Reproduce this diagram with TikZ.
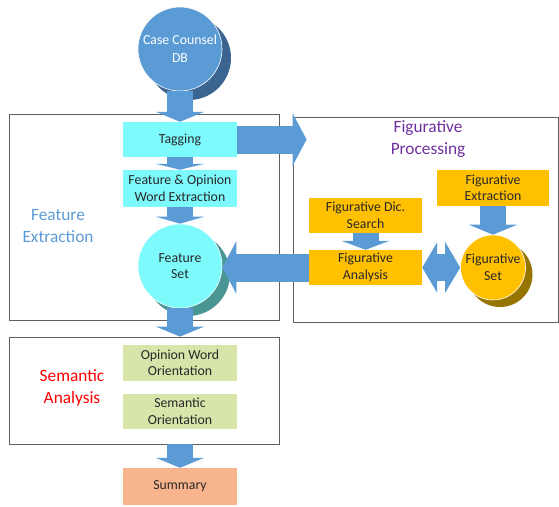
\documentclass[tikz,border=0pt]{standalone}
\usepackage{fontspec}
\setmainfont{Carlito}
\usetikzlibrary{arrows.meta,shadows,positioning}

\definecolor{arrowblue}{RGB}{91,155,213}
\definecolor{dbshadow}{RGB}{60,100,145}
\definecolor{cyanfill}{RGB}{125,250,252}
\definecolor{tealshadow}{RGB}{74,150,148}
\definecolor{figorange}{RGB}{255,192,0}
\definecolor{oliveshadow}{RGB}{150,116,0}
\definecolor{semgreen}{RGB}{215,228,170}
\definecolor{sumsalmon}{RGB}{248,180,140}
\definecolor{framegray}{RGB}{95,95,95}
\definecolor{textgray}{RGB}{40,40,40}
\definecolor{figpurple}{RGB}{112,48,160}

\newcommand{\procfont}{\fontsize{13.8}{16.5}\selectfont}
\newcommand{\groupfont}{\fontsize{17.3}{21.5}\selectfont}

\begin{document}
\begin{tikzpicture}[x=1pt,y=-1pt,
  framebox/.style={rectangle, draw=framegray, line width=0.8pt, inner sep=0pt},
  procbox/.style={rectangle, minimum width=114pt, minimum height=35pt, inner sep=0pt, align=center, text=textgray, font=\procfont},
  roundset/.style={circle, minimum size=84pt, inner sep=0pt, align=center, draw=white, line width=0.6pt, font=\procfont},
  grouplabel/.style={align=center, font=\groupfont},
  blockarrow/.style={draw=arrowblue, line width=26pt, -{Triangle[width=48pt,length=#1]}},
  blockarrow/.default=10pt,
  bigarrow/.style={draw=arrowblue, line width=28pt, -{Triangle[width=52pt,length=14pt]}}]
\useasboundingbox (0,0) rectangle (559,506);

% Group frames
\node[framebox, minimum width=270pt, minimum height=206pt] (featbox) at (144,217) {};
\node[framebox, minimum width=265pt, minimum height=205pt] (figbox) at (425.5,219.5) {};
\node[framebox, minimum width=270pt, minimum height=107pt] (sembox) at (144,390.5) {};

% Group labels
\node[grouplabel, text=arrowblue] (featlabel) at (58,226) {Feature\\Extraction};
\node[grouplabel, text=figpurple] (figlabel) at (428,139) {Figurative\\Processing};
\node[grouplabel, text=red] (semlabel) at (72,388) {Semantic\\Analysis};

% Main pipeline
\node[roundset, fill=arrowblue, text=white, font=\fontsize{13.8}{18}\selectfont, general shadow={fill=dbshadow, shadow xshift=9pt, shadow yshift=-9pt}] (db) at (180,49) {Case Counsel\\DB};
\node[procbox, fill=cyanfill, minimum height=35pt] (tag) at (180,139.5) {Tagging};
\node[procbox, fill=cyanfill, minimum height=37pt] (feo) at (180,188.5) {Feature \& Opinion\\Word Extraction};
\node[roundset, fill=cyanfill, text=textgray, general shadow={fill=tealshadow, shadow xshift=8pt, shadow yshift=-8pt}] (fset) at (180,266) {Feature\\Set};
\node[procbox, fill=semgreen, minimum height=36pt] (owo) at (180,363) {Opinion Word\\Orientation};
\node[procbox, fill=semgreen, minimum height=35pt] (so) at (180,411.5) {Semantic\\Orientation};
\node[procbox, fill=sumsalmon, minimum height=37pt] (summary) at (180,486.5) {Summary};

% Figurative side
\node[procbox, fill=figorange, minimum width=113pt] (fds) at (365.5,215.5) {Figurative Dic.\\Search};
\node[procbox, fill=figorange, minimum width=113pt] (fa) at (365.5,267.5) {Figurative\\Analysis};
\node[procbox, fill=figorange, minimum width=112pt, minimum height=36pt] (fe) at (493,188) {Figurative\\Extraction};
\node[roundset, fill=figorange, text=textgray, minimum size=65pt, general shadow={fill=oliveshadow, shadow xshift=7pt, shadow yshift=-7pt}] (fgset) at (493,267.5) {Figurative\\Set};

% Arrows
\draw[blockarrow] (db) -- (tag);
\draw[blockarrow=6pt] (tag) -- (feo);
\draw[blockarrow=7pt] (feo) -- (fset);
\draw[blockarrow] (fset) -- (fset |- sembox.north);
\draw[blockarrow] (summary |- sembox.south) -- (summary);
\draw[blockarrow=9pt] (fds) -- (fa);
\draw[blockarrow] (fe) -- (fgset);
\draw[bigarrow, shorten >=-14pt] (tag.east) -- (tag.east -| figbox.west);
\draw[bigarrow] (fa.west) -- (fa.west -| fset.east);
\draw[draw=arrowblue, line width=27pt, {Triangle[width=50pt,length=15pt]}-{Triangle[width=50pt,length=15pt]}] (fa) -- (fgset);
\end{tikzpicture}
\end{document}
